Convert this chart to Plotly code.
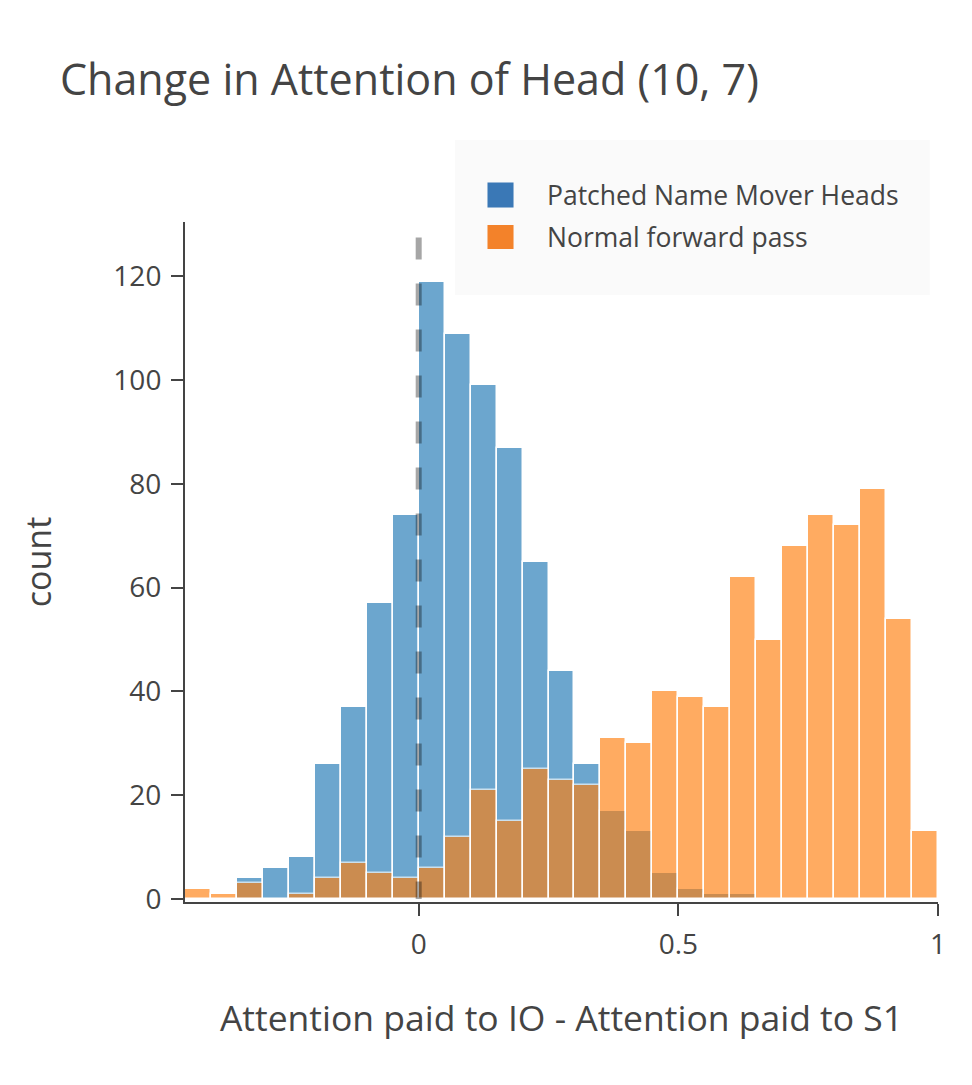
import plotly.graph_objects as go

# histogram bins (centres), width 0.05
bin_centers = [-0.425, -0.375, -0.325, -0.275, -0.225, -0.175, -0.125, -0.075, -0.025,
               0.025, 0.075, 0.125, 0.175, 0.225, 0.275, 0.325, 0.375, 0.425, 0.475,
               0.525, 0.575, 0.625, 0.675, 0.725, 0.775, 0.825, 0.875, 0.925, 0.975]

patched_counts = [0, 0, 4, 6, 8, 26, 37, 57, 74,
                  119, 109, 99, 87, 65, 44, 26, 17, 13, 5,
                  2, 1, 1, 0, 0, 0, 0, 0, 0, 0]

normal_counts = [2, 1, 3, 0, 1, 4, 7, 5, 4,
                 6, 12, 21, 15, 25, 23, 22, 31, 30, 40,
                 39, 37, 62, 50, 68, 74, 72, 79, 54, 13]

series_names = ['Patched Name Mover Heads', 'Normal forward pass']
series_colors = ['#1f77b4', '#ff7f0e']
legend_colors = ['#3a78b6', '#f3822a']

ref_x = 0
ref_top = 127.5

font = 'Open Sans'
text_color = '#444'

fig = go.Figure()

for name, counts, color in zip(series_names, [patched_counts, normal_counts], series_colors):
    fig.add_trace(go.Histogram(
        x=bin_centers,
        y=counts,
        histfunc='sum',
        xbins=dict(start=-0.45, end=1.0, size=0.05),
        name=name,
        marker=dict(color=color, line=dict(color='white', width=1.5)),
        opacity=0.65,
        showlegend=False,
    ))

# dashed reference line at 0
fig.add_shape(type='line', x0=ref_x, x1=ref_x, y0=ref_top, y1=0,
              xref='x', yref='y',
              line=dict(color='rgba(0,0,0,0.35)', width=6, dash='22px,24px'))

# legend box drawn by hand so the swatches match the size in the picture
fig.add_shape(type='rect', xref='paper', yref='paper',
              x0=0.3586, x1=0.989, y0=0.8926, y1=1.1206,
              fillcolor='#fafafa', line=dict(width=0), layer='below')
legend_rows = [(1.0581, 1.0213), (0.9956, 0.9603)]
for (top, bottom), name, color in zip(legend_rows, series_names, legend_colors):
    fig.add_shape(type='rect', xref='paper', yref='paper',
                  x0=0.4017, x1=0.4363, y0=bottom, y1=top,
                  fillcolor=color, line=dict(width=0))
    fig.add_annotation(text=name, xref='paper', yref='paper',
                       x=0.478, y=(top + bottom) / 2, xanchor='left', yanchor='middle',
                       showarrow=False, font=dict(family=font, size=26.5, color=text_color))

axis_style = dict(
    showline=True, linecolor=text_color, linewidth=2,
    ticks='outside', ticklen=12, tickwidth=2, tickcolor=text_color,
    ticklabelstandoff=4,
    showgrid=False, zeroline=False,
    tickfont=dict(family=font, size=28, color=text_color),
)

fig.update_layout(
    width=972, height=1085,
    barmode='overlay',
    plot_bgcolor='white', paper_bgcolor='white',
    margin=dict(l=177, r=42, t=214, b=191, autoexpand=False),
    title=dict(text='Change in Attention of Head (10, 7)',
               x=52 / 972, xanchor='left', xref='container',
               y=1 - 72 / 1085, yanchor='middle', yref='container',
               font=dict(family=font, size=43, color=text_color)),
    xaxis=dict(axis_style, range=[-0.45, 1.0], dtick=0.5,
               title=dict(text='Attention paid to IO - Attention paid to S1', standoff=46,
                          font=dict(family=font, size=35.5, color=text_color))),
    yaxis=dict(axis_style, range=[-0.6, 130.5], dtick=20,
               title=dict(text='count', standoff=51,
                          font=dict(family=font, size=34, color=text_color))),
)

fig.write_html('out.html')
